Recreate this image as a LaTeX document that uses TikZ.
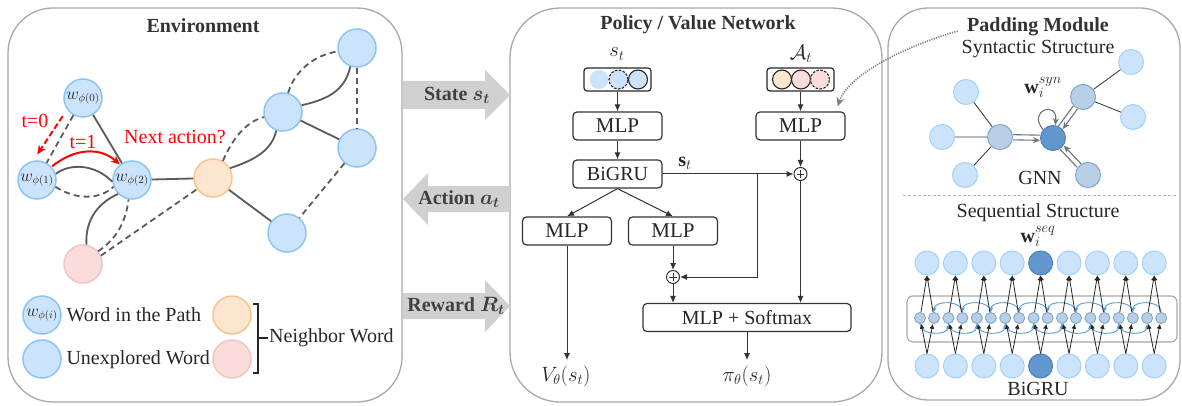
\documentclass[tikz,border=0pt]{standalone}
\usepackage{fontspec}
\setmainfont{Liberation Serif}
\usepackage{bm}
\usetikzlibrary{arrows.meta,calc}

\definecolor{panelgray}{HTML}{A8A8A8}
\definecolor{edgegray}{HTML}{5A5A5A}
\definecolor{wordfill}{HTML}{CCE4FB}
\definecolor{worddraw}{HTML}{8CC4F5}
\definecolor{orgfill}{HTML}{FDE6CF}
\definecolor{orgdraw}{HTML}{F7C590}
\definecolor{pinkfill}{HTML}{FBDCDD}
\definecolor{pinkdraw}{HTML}{F4C3C6}
\definecolor{arrowgray}{HTML}{D0D0D0}
\definecolor{midfill}{HTML}{B9CFE6}
\definecolor{middraw}{HTML}{7FA6CE}
\definecolor{darkfill}{HTML}{6297CD}
\definecolor{darkdraw}{HTML}{4C82BA}
\definecolor{recblue}{HTML}{5B9BD5}
\definecolor{txt}{HTML}{262626}

\begin{document}
\begin{tikzpicture}[x=1pt,y=-1pt,
  font=\rmfamily\fontsize{20}{24}\selectfont, text=txt,
  panel/.style={draw=panelgray, line width=1.3pt, rounded corners=#1},
  title/.style={font=\rmfamily\bfseries\fontsize{20}{24}\selectfont, text=black!80},
  wnode/.style={circle, minimum size=38pt, inner sep=0pt, fill=wordfill, draw=worddraw,
    line width=1.5pt, font=\fontsize{16}{18}\selectfont},
  onode/.style={wnode, fill=orgfill, draw=orgdraw},
  pnode/.style={wnode, fill=pinkfill, draw=pinkdraw},
  envedge/.style={draw=edgegray, line width=1.8pt},
  envdash/.style={envedge, dash pattern=on 6pt off 4pt},
  redarrow/.style={draw=red, line width=2pt, -{Stealth[length=9pt,width=8pt]}},
  redtext/.style={text=red},
  bigarrow/.style={fill=arrowgray},
  arrlabel/.style={font=\rmfamily\bfseries\fontsize{20}{24}\selectfont, text=black!75},
  box/.style={draw=black!80, line width=1.2pt, rounded corners=4pt, minimum width=89pt,
    minimum height=28pt, inner sep=0pt, font=\rmfamily\fontsize{21}{24}\selectfont},
  vecbox/.style={draw=black!85, line width=1.2pt, rounded corners=3pt, minimum width=67pt,
    minimum height=23pt, inner sep=0pt},
  vdot/.style={circle, minimum size=19pt, inner sep=0pt, line width=1.1pt},
  arr/.style={draw=black!80, line width=1pt, -{Latex[length=7pt,width=6pt]}},
  plusnode/.style={circle, draw=black!80, line width=1pt, minimum size=13pt, inner sep=0pt,
    path picture={\draw[line width=0.9pt]
      ($(path picture bounding box.center)+(-3.6,0)$) -- ($(path picture bounding box.center)+(3.6,0)$)
      ($(path picture bounding box.center)+(0,-3.6)$) -- ($(path picture bounding box.center)+(0,3.6)$);}},
  dotarrow/.style={draw=black!50, line width=1.6pt, dash pattern=on 1.2pt off 1.2pt,
    -{Stealth[length=9pt,width=8pt,open]}},
  leaf/.style={circle, minimum size=25pt, inner sep=0pt, fill=wordfill, draw=worddraw!80, line width=1pt},
  midn/.style={leaf, fill=midfill, draw=middraw},
  ctr/.style={leaf, fill=darkfill, draw=darkdraw},
  thinedge/.style={draw=black!75, line width=0.9pt},
  dblline/.style={draw=black!55, line width=1.1pt},
  dblarrow/.style={dblline, -{Stealth[length=7pt,width=6pt]}},
  seqw/.style={circle, minimum size=24pt, inner sep=0pt, fill=wordfill, draw=worddraw!80, line width=1pt},
  seqdark/.style={seqw, fill=darkfill, draw=darkdraw},
  hid/.style={circle, minimum size=11pt, inner sep=0pt, fill=midfill, draw=middraw, line width=0.9pt},
  rec/.style={draw=recblue, line width=0.9pt, -{Stealth[length=5pt,width=5pt]}},
  sarr/.style={draw=black!85, line width=0.8pt, -{Latex[length=5pt,width=5pt]}}
]
\useasboundingbox (0,0) rectangle (1182,406);

% ---------------- panels ----------------
\draw[panel=45pt] (8,8) rectangle (402,402);
\draw[panel=50pt] (510,8) rectangle (882,402);
\draw[panel=40pt] (888,8) rectangle (1180,400);

% ---------------- big exchange arrows ----------------
\fill[bigarrow] (403,81) -- (485,81) -- (485,70) -- (510,95) -- (485,120) -- (485,109) -- (403,109) -- cycle;
\node[arrlabel] (lstate) at (457,95) {State $\bm{s_t}$};
\fill[bigarrow] (510,186) -- (428,186) -- (428,173) -- (403,199) -- (428,225) -- (428,212) -- (510,212) -- cycle;
\node[arrlabel] (laction) at (459,199) {Action $\bm{a_t}$};
\fill[bigarrow] (403,293) -- (485,293) -- (485,280) -- (510,306) -- (485,332) -- (485,319) -- (403,319) -- cycle;
\node[arrlabel] (lreward) at (456,306) {Reward $\bm{R_t}$};

% ---------------- environment ----------------
\node[title] (envt) at (203,26) {Environment};

\node[wnode] (p0) at (83,98) {$w_{\phi(0)}$};
\node[wnode] (p1) at (37,180) {$w_{\phi(1)}$};
\node[wnode] (p2) at (132,180) {$w_{\phi(2)}$};
\node[onode] (o) at (213,178) {};
\node[pnode] (pk) at (83,264) {};
\node[wnode] (na) at (283,112) {};
\node[wnode] (tr) at (357,48) {};
\node[wnode] (rt) at (357,148) {};
\node[wnode] (bt) at (287,233) {};

\draw[envedge] (p0) -- (p2);
\draw[envdash] (p0) -- (p1);
\draw[envedge] (p1.18) .. controls (70,163) and (95,164) .. (p2.185);
\draw[envdash] (p1.-20) .. controls (75,200) and (100,200) .. (p2.-160);
\draw[envedge] (p2) -- (o);
\draw[envedge] (pk.80) .. controls (85,218) and (100,202) .. (p2.225);
\draw[envdash] (pk.40) .. controls (118,238) and (126,220) .. (p2.-100);
\draw[envdash] (pk.25) -- (o.215);
\draw[envedge] (o.30) .. controls (255,160) and (272,150) .. (na.-110);
\draw[envdash] (o.60) .. controls (232,140) and (245,122) .. (na.195);
\draw[envedge] (na.20) .. controls (325,100) and (345,92) .. (tr.-110);
\draw[envdash] (na.75) .. controls (295,70) and (315,55) .. (tr.190);
\draw[envdash] (tr) -- (rt);
\draw[envedge] (na) -- (rt);
\draw[envedge] (o) -- (bt);
\draw[envdash] (rt) -- (bt);

% walk so far and the open question
\draw[redarrow, dash pattern=on 6pt off 3pt] ($(p0.235)+(-9,2)$) -- ($(p1.95)+(2,-6)$);
\node[redtext] (t0) at (35,121) {t=0};
\draw[redarrow] ($(p1.40)+(0,-1)$) .. controls (75,148) and (100,147) .. (p2.128);
\node[redtext] (t1) at (83,142) {t=1};
\node[redtext] (next) at (175,137) {Next action?};

% legend
\node[wnode] (lw) at (42,315) {$w_{\phi(i)}$};
\node[anchor=west] (lwt) at (63,315) {Word in the Path};
\node[wnode] (lu) at (42,359) {};
\node[anchor=west] (lut) at (63,360) {Unexplored Word};
\node[onode] (lo) at (232,315) {};
\node[pnode] (lp) at (232,359) {};
\draw[line width=1.3pt, draw=black!85] (253,304) -- (258,304) -- (258,373) -- (253,373)
  (258,338) -- (268,338);
\node[anchor=west, inner sep=1pt] (lnb) at (268,338) {Neighbor Word};

% ---------------- policy / value network ----------------
\node[title] (pvt) at (698,25) {Policy / Value Network};

\node (slab) at (617,54) {$s_t$};
\node[vecbox] (sbox) at (617.5,79.5) {};
\node[vdot, fill=wordfill] (s1) at (599,79.5) {};
\node[vdot, fill=wordfill, draw=black!85, dash pattern=on 2.5pt off 1.5pt] (s2) at (618.5,79.5) {};
\node[vdot, fill=wordfill, draw=black!85] (s3) at (638,79.5) {};

\node (alab) at (801,54) {$\mathcal{A}_t$};
\node[vecbox] (abox) at (800.5,79.5) {};
\node[vdot, fill=orgfill, draw=black!85] (a1) at (782,79.5) {};
\node[vdot, fill=pinkfill, draw=black!85] (a2) at (801,79.5) {};
\node[vdot, fill=pinkfill, draw=black!85, dash pattern=on 2.5pt off 1.5pt] (a3) at (820,79.5) {};

\node[box] (mlpA) at (617.5,126) {MLP};
\node[box] (mlpB) at (800.5,126) {MLP};
\node[box, font=\rmfamily\fontsize{20}{24}\selectfont] (gru) at (617.5,174) {BiGRU};
\node[plusnode] (plus1) at (800.5,174) {};
\node[box] (mlpC) at (567,231) {MLP};
\node[box] (mlpD) at (673,231) {MLP};
\node[plusnode] (plus2) at (673,277) {};
\node[box, minimum width=208pt, font=\rmfamily\fontsize{20}{24}\selectfont] (soft) at (747,317.5) {MLP + Softmax};
\node (vout) at (566,376) {$V_\theta(s_t)$};
\node (piout) at (747,376) {$\pi_\theta(s_t)$};

\draw[arr] (sbox) -- (mlpA);
\draw[arr] (mlpA) -- (gru);
\draw[arr] (abox) -- (mlpB);
\draw[arr] (mlpB) -- (plus1);
\draw[arr] (gru) -- (plus1);
\node (stb) at (685,163) {$\mathbf{s}_t$};
\coordinate (br) at (757,174);
\draw[arr] (br) |- (plus2);
\draw[arr] (gru.south) -- (mlpC.north);
\draw[arr] (gru.south) -- (mlpD.north);
\draw[arr] (mlpD) -- (plus2);
\draw[arr] (plus2) -- (plus2 |- soft.north);
\draw[arr] (plus1) -- (plus1 |- soft.north);
\draw[arr] (mlpC.south) -- ($(vout.north)+(1,-2)$);
\draw[arr] (soft) -- ($(piout.north)+(0,-2)$);

% ---------------- padding module ----------------
\node[title] (pmt) at (1038,27) {Padding Module};
\node (synt) at (1038,49) {Syntactic Structure};

\node[ctr] (c) at (1053,138) {};
\node[midn] (m1) at (1000,137) {};
\node[midn] (m2) at (1083,97) {};
\node[midn] (m3) at (1088,175) {};
\node[leaf] (l1) at (966,92) {};
\node[leaf] (l2) at (942,137) {};
\node[leaf] (l3) at (965,175) {};
\node[leaf] (l4) at (1131,62) {};
\node[leaf] (l5) at (1133,117) {};
\draw[thinedge] (m1) -- (l1) (m1) -- (l2) (m1) -- (l3) (m2) -- (l4) (m2) -- (l5);

\draw[dblline, transform canvas={shift={(0pt,2.6pt)}}] (m1) -- (c);
\draw[dblarrow, transform canvas={shift={(0pt,-2.6pt)}}] (m1) -- (c);
\draw[dblline, transform canvas={shift={(-2.1pt,1.5pt)}}] (m2) -- (c);
\draw[dblarrow, transform canvas={shift={(2.1pt,-1.5pt)}}] (m2) -- (c);
\draw[dblline, transform canvas={shift={(-1.9pt,-1.8pt)}}] (m3) -- (c);
\draw[dblarrow, transform canvas={shift={(1.9pt,1.8pt)}}] (m3) -- (c);
\draw[dblarrow] (c.140) .. controls (1027,110) and (1058,100) .. (c.80);
\node (wsyn) at (1043,87) {$\mathbf{w}_i^{syn}$};
\node (gnn) at (1040,178) {GNN};

\draw[draw=black!30, line width=0.8pt, dash pattern=on 3pt off 2pt] (903,195) -- (1176,195);

\node[inner sep=0pt] (seqt) at (1038,213) {Sequential Structure};
\node[inner sep=0pt] (wseq) at (1038,236) {$\mathbf{w}_i^{seq}$};

\draw[draw=black!35, line width=1.1pt, rounded corners=6pt] (907,296) rectangle (1177,342);
\foreach \k in {1,...,9} {
  \pgfmathsetmacro\xx{927+28.4*(\k-1)}
  \ifnum\k=5 \def\wst{seqdark}\else\def\wst{seqw}\fi
  \node[\wst] (t\k) at (\xx,263) {};
  \node[\wst] (b\k) at (\xx,366) {};
  \node[hid] (ha\k) at (\xx-7,318) {};
  \node[hid] (hb\k) at (\xx+7,318) {};
}
\foreach \k [evaluate=\k as \n using int(\k+1)] in {1,...,8} {
  \draw[rec] (hb\n.north) .. controls +(0,-12) and +(0,-12) .. (hb\k.north);
  \draw[rec] (ha\k.south) .. controls +(0,12) and +(0,12) .. (ha\n.south);
}
\foreach \k in {1,...,9} {
  \draw[sarr] (b\k.north) -- (ha\k);
  \draw[sarr] (b\k.north) -- (hb\k);
  \draw[sarr] (ha\k) -- (t\k.south);
  \draw[sarr] (hb\k) -- (t\k.south);
}
\node (bigru) at (1038,389) {BiGRU};

% link from the padding module to the action-set encoder
\draw[dotarrow] ($(pmt.west)+(-6,4)$) .. controls (900,48) and (848,76) .. ($(mlpB.north east)+(-8,-5)$);
\end{tikzpicture}
\end{document}
